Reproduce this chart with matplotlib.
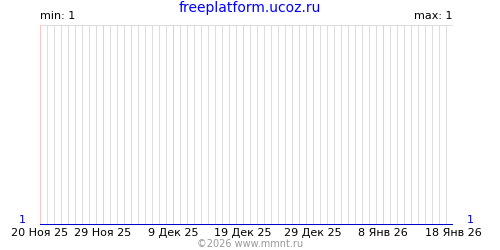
import numpy as np
import pandas as pd
import matplotlib
matplotlib.use("Agg")
import matplotlib.pyplot as plt

# daily values, all equal to 1
dates = pd.date_range("2025-11-20", "2026-01-18", freq="D")
values = [1] * len(dates)

tick_dates = pd.to_datetime(["2025-11-20", "2025-11-29", "2025-12-09", "2025-12-19",
                             "2025-12-29", "2026-01-08", "2026-01-18"])
tick_labels = ["20 Ноя 25", "29 Ноя 25", "9 Дек 25", "19 Дек 25",
               "29 Дек 25", "8 Янв 26", "18 Янв 26"]

title = "freeplatform.ucoz.ru"
min_val = min(values)
max_val = max(values)

fig = plt.figure(figsize=(5, 2.5), dpi=100)
ax = fig.add_axes([0.08, 0.1, 0.826, 0.8])

x = np.arange(len(dates))
tick_pos = [(d - dates[0]).days for d in tick_dates]

px = 72 / 100  # one pixel in points
for i in x:
    col = "#ffc4c4" if i in tick_pos else "#dddddd"
    ax.axvline(i, color=col, lw=px, zorder=2 if i in tick_pos else 1, snap=True)
ax.axhline(2, color="#dddddd", lw=px, zorder=1, snap=True)

ax.plot(x, values, color="#0000cc", lw=2 * px, zorder=3, solid_capstyle="butt",
        snap=True)

ax.set_xlim(0, len(dates) - 1)
ax.set_ylim(1, 2)
for s in ax.spines.values():
    s.set_visible(False)
ax.set_yticks([])
ax.set_xticks(tick_pos)
ax.set_xticklabels(tick_labels, fontsize=8)
ax.tick_params(axis="x", length=0, pad=2)

ax.text(-2, 1, str(values[0]), color="#0000cc", fontsize=8, ha="right", va="bottom")
ax.text(len(dates) + 1, 1, str(values[-1]), color="#0000cc", fontsize=8, ha="left", va="bottom")

fig.text(0.08, 0.915, f"min: {min_val}", fontsize=8, ha="left", va="bottom")
fig.text(0.906, 0.915, f"max: {max_val}", fontsize=8, ha="right", va="bottom")
fig.text(0.5, 0.995, title, fontsize=10, color="#0000ff", ha="center", va="top")
fig.text(0.5, 0.005, "©2026 www.mmnt.ru", fontsize=7, color="#999999", ha="center", va="bottom")

fig.savefig("out.png", dpi=100)
